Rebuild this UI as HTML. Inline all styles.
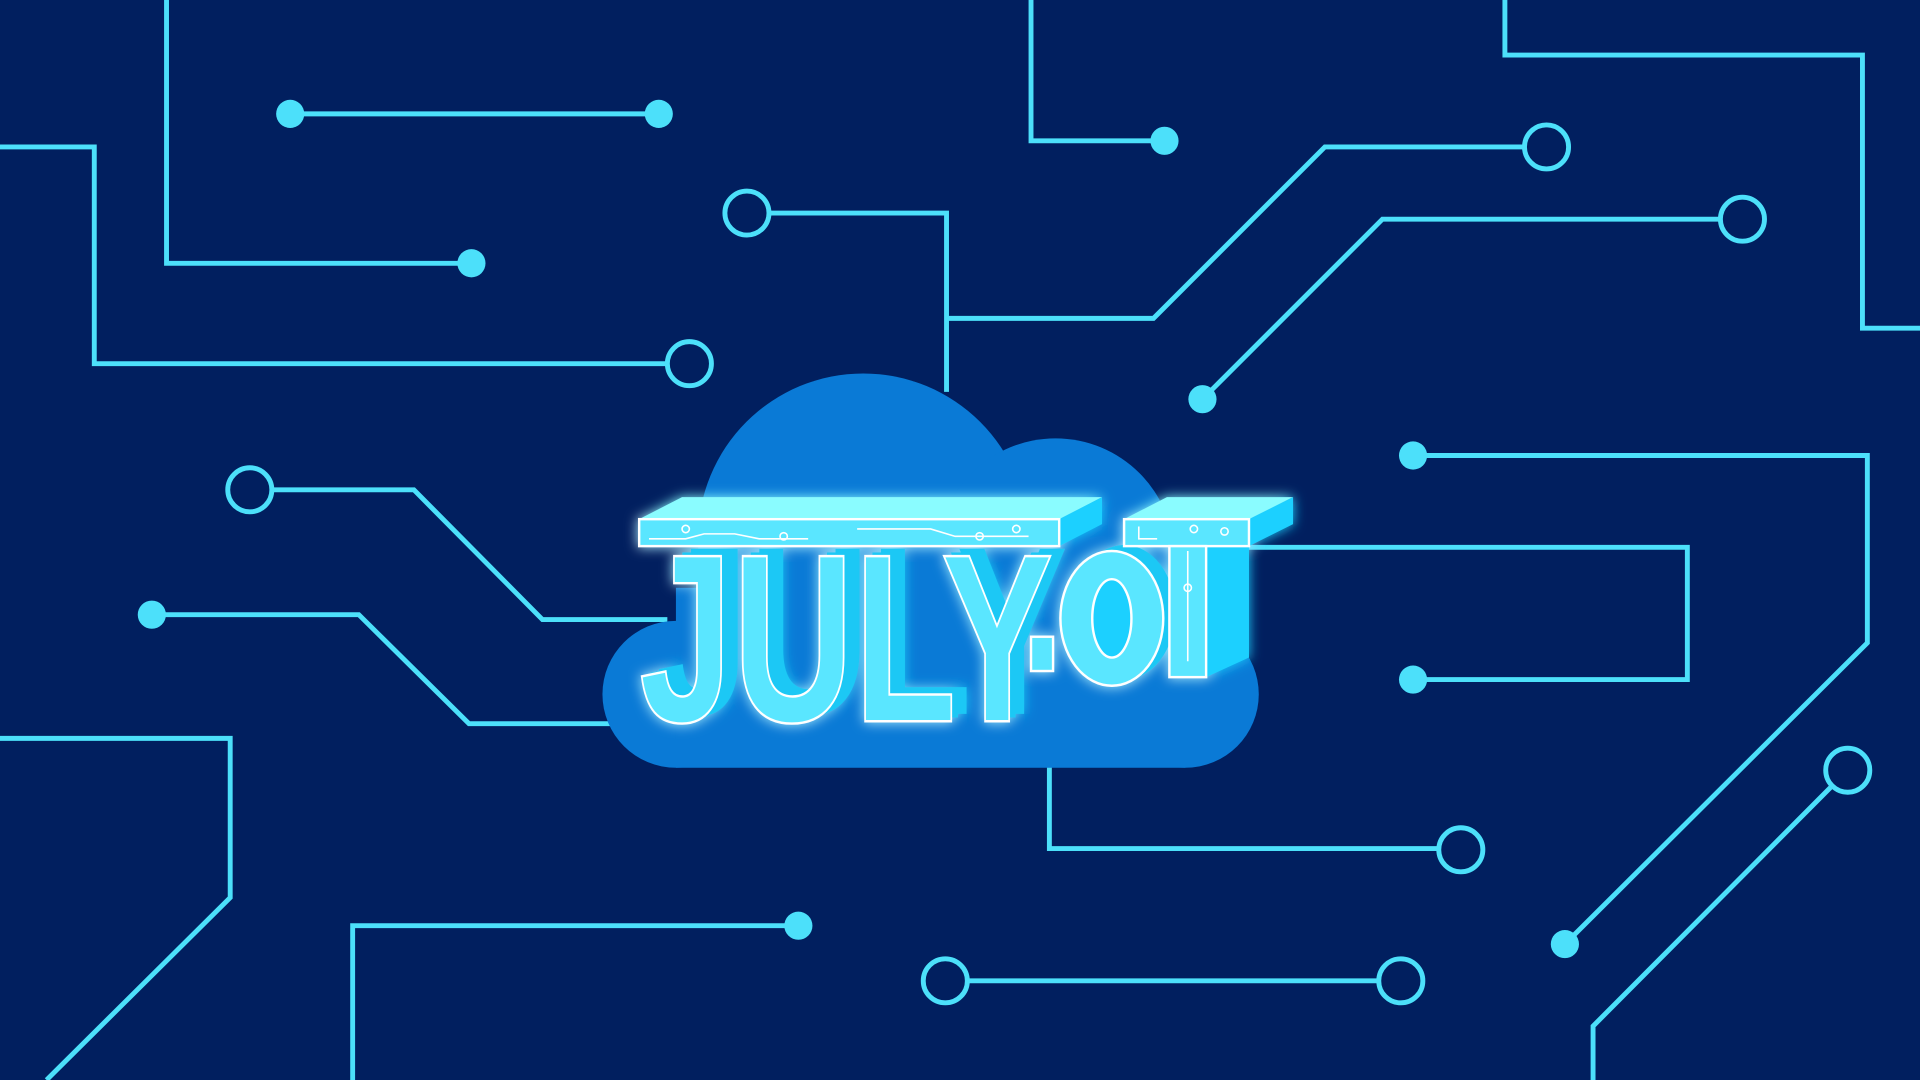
<!DOCTYPE html>
<html><head><meta charset="utf-8"><style>html,body{margin:0;padding:0;background:#011f5f;overflow:hidden}svg{display:block}</style></head>
<body>
<svg width="1920" height="1080" viewBox="0 0 1568 882" xmlns="http://www.w3.org/2000/svg">
<defs>
<filter id="glow" x="-20%" y="-20%" width="140%" height="140%"><feGaussianBlur stdDeviation="5" result="b"/><feMerge><feMergeNode in="b"/><feMergeNode in="SourceGraphic"/></feMerge></filter>
</defs>
<rect width="1568" height="882" fill="#011f5f"/>
<g fill="none" stroke="#4ce0fa" stroke-width="4">
<polyline points="136,0 136,215 385,215"/>
<polyline points="237,93 538,93"/>
<polyline points="0,120 77,120 77,297 545,297"/>
<polyline points="629,174 773,174 773,320"/>
<polyline points="773,260 942,260 1082,120 1244,120"/>
<polyline points="842,0 842,115 951,115"/>
<polyline points="1229,0 1229,45 1521,45 1521,268 1568,268"/>
<polyline points="982,326 1129,179 1404,179"/>
<polyline points="223,400 338,400 443,506 545,506"/>
<polyline points="124,502 293,502 383,591 500,591"/>
<polyline points="0,603 188,603 188,733 38,882"/>
<polyline points="1154,372 1525,372 1525,525 1278,771"/>
<polyline points="1000,447 1378,447 1378,555 1154,555"/>
<polyline points="857,600 857,693 1174,693"/>
<polyline points="652,756 288,756 288,882"/>
<polyline points="791,801 1126,801"/>
<polyline points="1495,643 1301,838 1301,882"/>
<circle cx="563" cy="297" r="18"/><circle cx="610" cy="174" r="18"/><circle cx="1263" cy="120" r="18"/>
<circle cx="1423" cy="179" r="18"/><circle cx="204" cy="400" r="18"/><circle cx="1193" cy="694" r="18"/>
<circle cx="772" cy="801" r="18"/><circle cx="1144" cy="801" r="18"/><circle cx="1509" cy="629" r="18"/>
</g>
<g fill="#4ce0fa">
<circle cx="385" cy="215" r="11.5"/><circle cx="237" cy="93" r="11.5"/><circle cx="538" cy="93" r="11.5"/>
<circle cx="951" cy="115" r="11.5"/><circle cx="982" cy="326" r="11.5"/><circle cx="124" cy="502" r="11.5"/>
<circle cx="1154" cy="372" r="11.5"/><circle cx="1278" cy="771" r="11.5"/><circle cx="1154" cy="555" r="11.5"/>
<circle cx="652" cy="756" r="11.5"/>
</g>
<!-- cloud -->
<g fill="#0a7ad6">
<circle cx="705" cy="440" r="135"/>
<circle cx="862" cy="455" r="97"/>
<circle cx="552" cy="567" r="60"/>
<circle cx="968" cy="567" r="60"/>
<rect x="552" y="480" width="416" height="147"/>
</g>
<!-- logo -->
<g filter="url(#glow)">
<text x="536" y="583" font-family="Liberation Sans, sans-serif" font-weight="bold" font-size="196" textLength="336" lengthAdjust="spacingAndGlyphs" fill="#1bc8f5">JULY</text>
<text x="529" y="586" font-family="Liberation Sans, sans-serif" font-weight="bold" font-size="196" textLength="336" lengthAdjust="spacingAndGlyphs" fill="#1bc8f5">JULY</text>
<polygon points="522,424 557,406 900,406 865,424" fill="#8afcff"/>
<polygon points="865,424 900,406 900,428 865,446" fill="#1ed0ff"/>
<polygon points="918,424 953,406 1056,406 1020,424" fill="#8afcff"/>
<polygon points="1020,424 1056,406 1056,428 1020,446" fill="#1ed0ff"/>
<polygon points="985,446 1020,430 1020,537 985,553" fill="#1ed0ff"/>
<ellipse cx="918" cy="500" rx="42" ry="55" fill="#1bc8f5"/>
<text x="522" y="589" font-family="Liberation Sans, sans-serif" font-weight="bold" font-size="196" textLength="338" lengthAdjust="spacingAndGlyphs" fill="#5ae6ff" stroke="#ffffff" stroke-width="2">JULY</text>
<rect x="522" y="424" width="343" height="22" fill="#5ae6ff" stroke="#fff" stroke-width="2"/>
<rect x="842" y="520" width="18" height="28" fill="#5ae6ff" stroke="#fff" stroke-width="2"/>
<ellipse cx="908" cy="505" rx="42" ry="55" fill="#5ae6ff" stroke="#fff" stroke-width="2"/>
<ellipse cx="908" cy="505" rx="16" ry="32" fill="#1ed0ff" stroke="#fff" stroke-width="2"/>
<rect x="918" y="424" width="102" height="22" fill="#5ae6ff" stroke="#fff" stroke-width="2"/>
<rect x="955" y="446" width="30" height="107" fill="#5ae6ff" stroke="#fff" stroke-width="2"/>
</g>
<g fill="none" stroke="#fff" stroke-width="1.3">
<polyline points="530,440 560,440 575,436 600,436 620,440 660,440"/><circle cx="560" cy="432" r="3"/><circle cx="640" cy="438" r="3"/>
<polyline points="700,432 760,432 780,438 840,438"/><circle cx="800" cy="438" r="3"/><circle cx="830" cy="432" r="3"/>
<polyline points="930,430 930,440 945,440"/><circle cx="975" cy="432" r="3"/><circle cx="1000" cy="434" r="3"/>
<polyline points="970,450 970,540"/><circle cx="970" cy="480" r="3"/>
</g>
</svg>
</body></html>
